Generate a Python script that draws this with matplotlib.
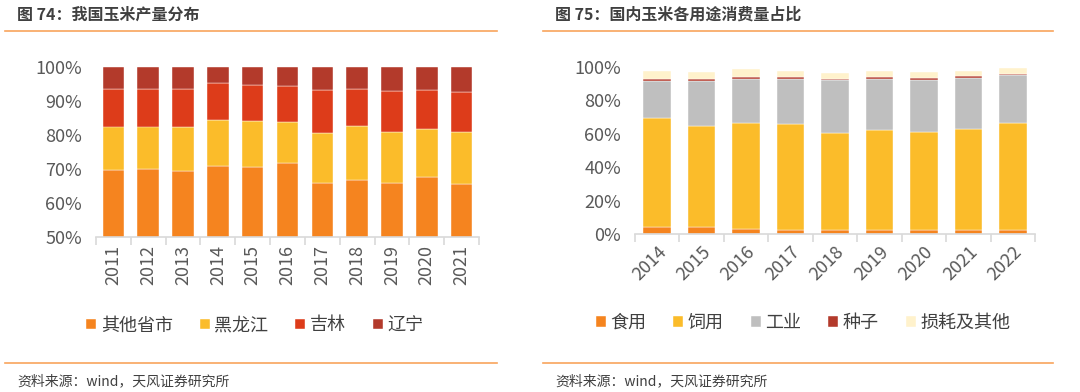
import matplotlib.pyplot as plt
import numpy as np
from matplotlib.lines import Line2D
from matplotlib.ticker import FuncFormatter

plt.rcParams['font.family'] = ['Noto Sans CJK SC', 'DejaVu Sans']

# left chart: corn production share by region
years_l = ['2011', '2012', '2013', '2014', '2015', '2016', '2017', '2018', '2019', '2020', '2021']
others = [69.7, 69.9, 69.5, 70.9, 70.6, 71.7, 66.0, 66.9, 65.9, 67.5, 65.6]
heilongjiang = [12.8, 12.6, 13.0, 13.5, 13.5, 12.0, 14.5, 15.8, 15.1, 14.2, 15.2]
jilin = [11.1, 11.1, 11.1, 11.0, 10.5, 10.7, 12.6, 10.9, 11.8, 11.4, 11.9]
liaoning = [6.4, 6.4, 6.4, 4.6, 5.4, 5.6, 6.9, 6.4, 7.2, 6.9, 7.3]
names_l = ['其他省市', '黑龙江', '吉林', '辽宁']

# right chart: domestic corn consumption by use
years_r = ['2014', '2015', '2016', '2017', '2018', '2019', '2020', '2021', '2022']
food = [4.0, 4.0, 3.0, 2.2, 2.2, 2.2, 2.6, 2.6, 2.6]
feed = [65.6, 60.4, 63.4, 63.6, 58.4, 60.2, 58.6, 60.0, 63.6]
industry = [22.0, 27.2, 26.4, 27.2, 31.4, 30.4, 31.2, 30.8, 29.0]
seed = [1.0, 1.0, 1.0, 0.8, 0.8, 1.0, 0.8, 1.0, 0.8]
loss = [4.8, 4.6, 4.8, 4.0, 3.6, 3.6, 3.8, 3.4, 3.6]
names_r = ['食用', '饲用', '工业', '种子', '损耗及其他']

colors_l = ['#F5841F', '#FBBC2A', '#DD3C1A', '#B33A2B']
colors_r = ['#F5841F', '#FBBC2A', '#BFBFBF', '#B33A2B', '#FFF2CC']

W, H = 1080, 392
fig = plt.figure(figsize=(W / 100, H / 100), dpi=100)


def box(x0, y0, x1, y1):
    return [x0 / W, 1 - y1 / H, (x1 - x0) / W, (y1 - y0) / H]


def style_axis(ax, n):
    for s in ['top', 'right', 'left']:
        ax.spines[s].set_visible(False)
    ax.spines['bottom'].set_color('#D9D9D9')
    ax.spines['bottom'].set_linewidth(1.2)
    ax.set_xlim(-0.5, n - 0.5)
    ax.set_xticks(np.arange(n + 1) - 0.5, minor=True)
    ax.tick_params(axis='x', which='minor', length=6, color='#D9D9D9', width=1.2)
    ax.tick_params(axis='x', which='major', length=0, pad=6, labelsize=13, labelcolor='#595959')
    ax.tick_params(axis='y', length=0, labelsize=13, labelcolor='#595959', pad=10)
    ax.yaxis.set_major_formatter(FuncFormatter(lambda v, p: f'{v * 100:.0f}%'))


def stacked(ax, cats, series, colors, names):
    x = np.arange(len(cats))
    bottom = np.zeros(len(cats))
    for vals, c, nm in zip(series, colors, names):
        v = np.array(vals) / 100
        ax.bar(x, v, 0.62, bottom=bottom, color=c, label=nm,
               edgecolor='white', linewidth=0.3)
        bottom += v
    ax.set_xticks(x)


leg_kw = dict(loc='center', frameon=False, fontsize=13, handlelength=0.55,
              handleheight=0.55, handletextpad=0.25, columnspacing=1.5,
              labelcolor='#404040')

# left
ax1 = fig.add_axes(box(96, 67, 479, 237))
stacked(ax1, years_l, [others, heilongjiang, jilin, liaoning], colors_l, names_l)
ax1.set_ylim(0.5, 1.0)
ax1.set_yticks(np.arange(0.5, 1.01, 0.1))
style_axis(ax1, len(years_l))
ax1.set_xticklabels(years_l, rotation=90)
ax1.legend(bbox_to_anchor=(0.415, -0.52), ncol=4, **leg_kw)

# right
ax2 = fig.add_axes(box(635, 67, 1035, 234))
stacked(ax2, years_r, [food, feed, industry, seed, loss], colors_r, names_r)
ax2.set_ylim(0, 1.0)
ax2.set_yticks(np.arange(0, 1.01, 0.2))
style_axis(ax2, len(years_r))
ax2.set_xticklabels(years_r, rotation=45, ha='right', rotation_mode='anchor')
ax2.legend(bbox_to_anchor=(0.42, -0.53), ncol=5, **leg_kw)

# titles, rules, sources
line_c = '#F8A45C'
for x0, x1, title in [(5, 497, '图 74：我国玉米产量分布'), (543, 1053, '图 75：国内玉米各用途消费量占比')]:
    fig.text((x0 + 12) / W, 1 - 15 / H, title, fontsize=11.5, fontweight='bold',
             color='#404040', va='center')
    fig.add_artist(Line2D([x0 / W, x1 / W], [1 - 31 / H] * 2, color=line_c, lw=1.2))
    fig.add_artist(Line2D([x0 / W, x1 / W], [1 - 363 / H] * 2, color=line_c, lw=1.2))
    fig.text((x0 + 12) / W, 1 - 381 / H, '资料来源：wind，天风证券研究所', fontsize=10,
             color='#404040', va='center')

fig.savefig('out.png', dpi=100, facecolor='white')
